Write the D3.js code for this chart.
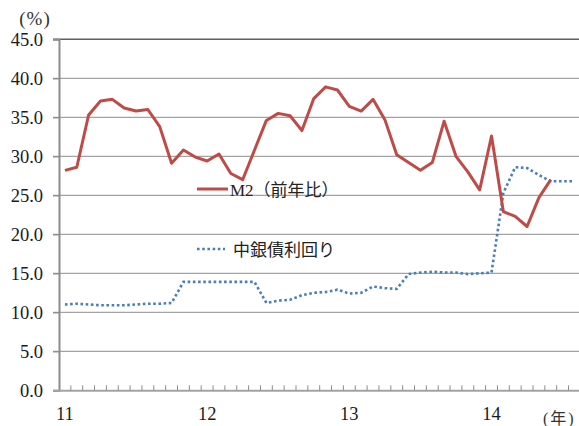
<!DOCTYPE html>
<html>
<head>
<meta charset="utf-8">
<script src="https://cdn.jsdelivr.net/npm/d3@7"></script>
<style>
  html, body { margin: 0; padding: 0; background: #fff; }
  svg { display: block; }
</style>
</head>
<body>
<div id="chart"></div>
<script>
// Monthly categories, Jan 2011 – Aug 2014
const categories = [
  "2011-01","2011-02","2011-03","2011-04","2011-05","2011-06","2011-07","2011-08","2011-09","2011-10","2011-11","2011-12",
  "2012-01","2012-02","2012-03","2012-04","2012-05","2012-06","2012-07","2012-08","2012-09","2012-10","2012-11","2012-12",
  "2013-01","2013-02","2013-03","2013-04","2013-05","2013-06","2013-07","2013-08","2013-09","2013-10","2013-11","2013-12",
  "2014-01","2014-02","2014-03","2014-04","2014-05","2014-06","2014-07","2014-08"
];

// M2 growth, year on year (%), Jan 2011 – Jun 2014
const m2Growth = [
  28.2, 28.6, 35.3, 37.1, 37.3, 36.2, 35.8, 36.0, 33.8, 29.1, 30.8, 29.9,
  29.4, 30.3, 27.8, 27.0, 30.8, 34.6, 35.5, 35.2, 33.3, 37.4, 38.9, 38.5,
  36.4, 35.8, 37.3, 34.7, 30.2, 29.2, 28.2, 29.2, 34.5, 30.0, 28.0, 25.7,
  32.6, 22.9, 22.3, 21.0, 24.7, 27.0
];

// Central bank bill yield (%), Jan 2011 – Aug 2014
const billYield = [
  11.0, 11.1, 11.0, 10.9, 10.9, 10.9, 11.0, 11.1, 11.1, 11.2, 13.9, 13.9,
  13.9, 13.9, 13.9, 13.9, 13.9, 11.2, 11.5, 11.6, 12.2, 12.5, 12.6, 12.9,
  12.4, 12.5, 13.3, 13.1, 13.0, 14.9, 15.1, 15.2, 15.1, 15.1, 14.9, 15.0,
  15.1, 25.3, 28.6, 28.5, 27.6, 26.8, 26.8, 26.8
];

// Axis labels
const yTicks = [0, 5, 10, 15, 20, 25, 30, 35, 40, 45];
const yearTicks = [
  { cat: "2011-01", label: "11" },
  { cat: "2012-01", label: "12" },
  { cat: "2013-01", label: "13" },
  { cat: "2014-01", label: "14" }
];
const seriesNames = ["M2（前年比）", "中銀債利回り"];

const W = 579, H = 426;
const plotLeft = 59, plotRight = 580.4, plotTop = 39.3, plotBottom = 390.3;
const serif = "'Liberation Serif', 'Times New Roman', serif";
const mixed = "'Liberation Serif', 'Noto Sans CJK JP', serif";

const svg = d3.select("#chart").append("svg")
  .attr("width", W).attr("height", H);

const x = d3.scaleBand().domain(categories).range([plotLeft, plotRight]).padding(0);
const y = d3.scaleLinear().domain([0, 45]).range([plotBottom, plotTop]);
const cx = c => x(c) + x.bandwidth() / 2;

// Horizontal gridlines
svg.append("g").selectAll("line")
  .data(yTicks.filter(v => v > 0))
  .join("line")
  .attr("x1", plotLeft - 6).attr("x2", W)
  .attr("y1", d => y(d)).attr("y2", d => y(d))
  .attr("stroke", d => d === 45 ? "#5f5f5f" : "#a3a3a3")
  .attr("stroke-width", d => d === 45 ? 1.6 : 1.3);

// Y axis with outward ticks
const yAxis = d3.axisLeft(y).tickValues(yTicks).tickSize(6).tickPadding(10)
  .tickFormat(d3.format(".1f"));
const gy = svg.append("g").attr("transform", `translate(${plotLeft},0)`).call(yAxis);
gy.select(".domain").attr("stroke", "#8c8c8c").attr("stroke-width", 2);
gy.selectAll(".tick line").attr("stroke", "#8c8c8c").attr("stroke-width", 1.3);
gy.selectAll(".tick text")
  .attr("font-family", serif).attr("font-size", 18.5).attr("fill", "#1a1a1a");

// X axis: inward ticks at month boundaries, year labels
const xAxisLine = svg.append("g");
xAxisLine.append("line")
  .attr("x1", plotLeft - 6).attr("x2", W)
  .attr("y1", plotBottom + 0.5).attr("y2", plotBottom + 0.5)
  .attr("stroke", "#a3a3a3").attr("stroke-width", 2);
xAxisLine.selectAll("line.tick")
  .data(categories.slice(1))
  .join("line").attr("class", "tick")
  .attr("x1", d => x(d)).attr("x2", d => x(d))
  .attr("y1", plotBottom - 5).attr("y2", plotBottom)
  .attr("stroke", "#8c8c8c").attr("stroke-width", 1);

svg.append("g").selectAll("text")
  .data(yearTicks)
  .join("text")
  .attr("x", d => cx(d.cat)).attr("y", 420)
  .attr("text-anchor", "middle")
  .attr("font-family", serif).attr("font-size", 18.5).attr("fill", "#1a1a1a")
  .text(d => d.label);

// Unit labels
svg.append("text").attr("x", 35).attr("y", 25).attr("text-anchor", "middle")
  .attr("font-family", serif).attr("font-size", 19).attr("fill", "#333")
  .attr("letter-spacing", 1)
  .text("(%)");
svg.append("text").attr("x", 543).attr("y", 424)
  .attr("font-family", mixed).attr("font-size", 16).attr("fill", "#333")
  .attr("letter-spacing", 2)
  .text("(年)");

// Series lines
const lineGen = d3.line()
  .x((d, i) => cx(categories[i]))
  .y(d => y(d));

svg.append("path").datum(billYield)
  .attr("d", lineGen)
  .attr("fill", "none")
  .attr("stroke", "#4a7ebb")
  .attr("stroke-width", 2.6)
  .attr("stroke-dasharray", "2.6 2.6");

svg.append("path").datum(m2Growth)
  .attr("d", lineGen)
  .attr("fill", "none")
  .attr("stroke", "#be4b48")
  .attr("stroke-width", 3)
  .attr("stroke-linejoin", "round");

// Legend
const lg = svg.append("g");
lg.append("line").attr("x1", 197).attr("x2", 228).attr("y1", 189).attr("y2", 189)
  .attr("stroke", "#be4b48").attr("stroke-width", 3);
lg.append("text").attr("x", 230).attr("y", 196)
  .attr("font-family", mixed).attr("font-size", 17).attr("fill", "#222")
  .text(seriesNames[0]);
lg.append("line").attr("x1", 197).attr("x2", 225).attr("y1", 249).attr("y2", 249)
  .attr("stroke", "#4a7ebb").attr("stroke-width", 2.6).attr("stroke-dasharray", "2.6 2.6");
lg.append("text").attr("x", 233).attr("y", 256)
  .attr("font-family", mixed).attr("font-size", 17).attr("fill", "#222")
  .text(seriesNames[1]);
</script>
</body>
</html>
